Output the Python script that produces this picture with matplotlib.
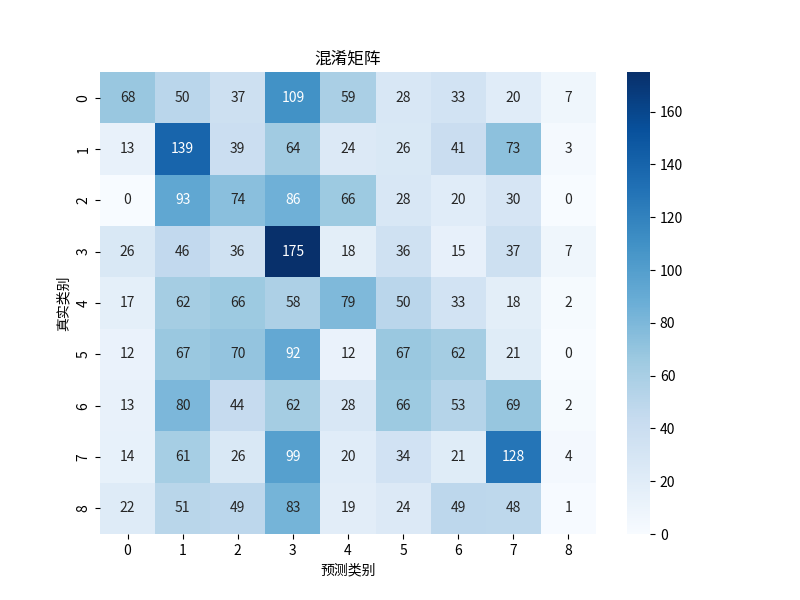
import matplotlib
matplotlib.use("Agg")
import matplotlib.pyplot as plt
import seaborn as sns
import numpy as np

plt.rcParams['font.family'] = ['Noto Sans CJK SC', 'DejaVu Sans']
plt.rcParams['axes.unicode_minus'] = False

labels = [str(i) for i in range(9)]
row0 = [68, 50, 37, 109, 59, 28, 33, 20, 7]
row1 = [13, 139, 39, 64, 24, 26, 41, 73, 3]
row2 = [0, 93, 74, 86, 66, 28, 20, 30, 0]
row3 = [26, 46, 36, 175, 18, 36, 15, 37, 7]
row4 = [17, 62, 66, 58, 79, 50, 33, 18, 2]
row5 = [12, 67, 70, 92, 12, 67, 62, 21, 0]
row6 = [13, 80, 44, 62, 28, 66, 53, 69, 2]
row7 = [14, 61, 26, 99, 20, 34, 21, 128, 4]
row8 = [22, 51, 49, 83, 19, 24, 49, 48, 1]
cm = np.array([row0, row1, row2, row3, row4, row5, row6, row7, row8])

fig, ax = plt.subplots(figsize=(8, 6), dpi=100)
sns.heatmap(cm, annot=True, fmt='d', cmap='Blues', ax=ax,
            xticklabels=labels, yticklabels=labels)
ax.set_title('混淆矩阵')
ax.set_xlabel('预测类别')
ax.set_ylabel('真实类别')
plt.setp(ax.get_yticklabels(), rotation=90, va='center')
fig.savefig('out.png', dpi=100)
